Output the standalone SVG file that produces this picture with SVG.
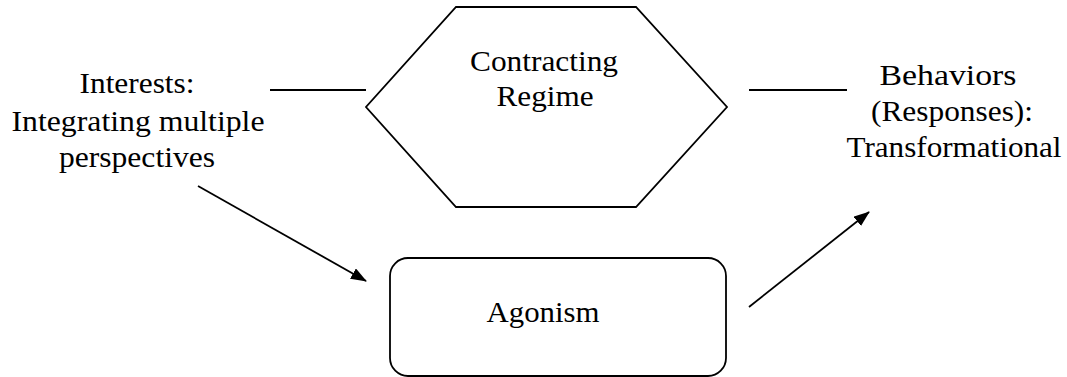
<svg xmlns="http://www.w3.org/2000/svg" width="1067" height="377" viewBox="0 0 1067 377">
<style>
.t{font-family:'Liberation Serif','Times New Roman',Times,serif;font-size:30px;fill:#000;text-anchor:middle}
.s{fill:none;stroke:#000;stroke-width:1.8}
</style>
<defs>
<marker id="ah" markerWidth="16" markerHeight="12" refX="15" refY="6" orient="auto" markerUnits="userSpaceOnUse">
<path d="M0,0 L16,6 L0,12 Z" fill="#000"/>
</marker>
</defs>
<rect width="1067" height="377" fill="#fff"/>
<g id="interests">
<text class="t" x="137" y="93" textLength="115" lengthAdjust="spacingAndGlyphs">Interests:</text>
<text class="t" x="138" y="131" textLength="253" lengthAdjust="spacingAndGlyphs">Integrating multiple</text>
<text class="t" x="137" y="167" textLength="156" lengthAdjust="spacingAndGlyphs">perspectives</text>
</g>
<g id="regime">
<polygon class="s" points="456,7 636,7 727,107 636,207 456,207 366,107"/>
<text class="t" x="544" y="71" textLength="148" lengthAdjust="spacingAndGlyphs">Contracting</text>
<text class="t" x="545" y="106" textLength="97" lengthAdjust="spacingAndGlyphs">Regime</text>
</g>
<g id="behaviors">
<text class="t" x="948" y="85" textLength="137" lengthAdjust="spacingAndGlyphs">Behaviors</text>
<text class="t" x="952" y="121" textLength="162" lengthAdjust="spacingAndGlyphs">(Responses):</text>
<text class="t" x="954" y="157" textLength="215" lengthAdjust="spacingAndGlyphs">Transformational</text>
</g>
<g id="agonism">
<rect class="s" x="390" y="258" width="336" height="118" rx="18" ry="18"/>
<text class="t" x="543" y="322" textLength="113" lengthAdjust="spacingAndGlyphs">Agonism</text>
</g>
<g id="connectors">
<line class="s" x1="270" y1="90" x2="366" y2="90"/>
<line class="s" x1="749" y1="90" x2="847" y2="90"/>
<line class="s" x1="198" y1="186" x2="366" y2="281" marker-end="url(#ah)"/>
<line class="s" x1="749" y1="307" x2="869" y2="212" marker-end="url(#ah)"/>
</g>
</svg>
